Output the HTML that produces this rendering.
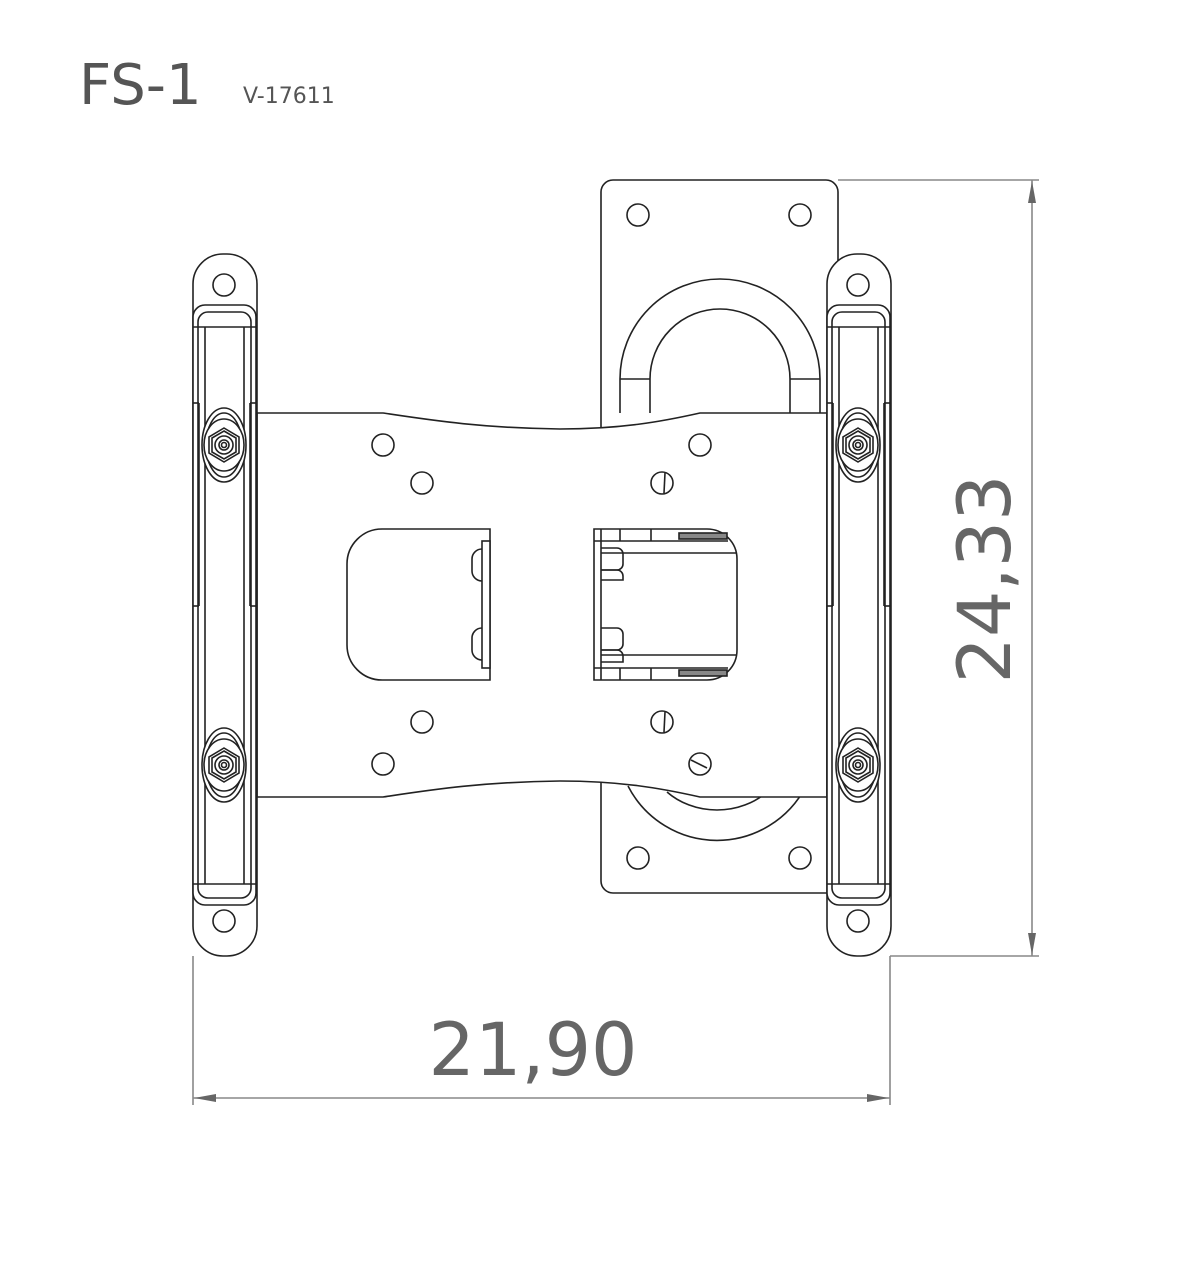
<!DOCTYPE html>
<html><head><meta charset="utf-8"><style>
html,body{margin:0;padding:0;background:#fff;}
svg{display:block;}
</style></head><body>
<svg width="1200" height="1272" viewBox="0 0 1200 1272" xmlns="http://www.w3.org/2000/svg">
<defs>
<g id="bolt">
  <ellipse cx="0" cy="0" rx="22" ry="37"/>
  <ellipse cx="0" cy="0" rx="18" ry="32"/>
  <ellipse cx="0" cy="0" rx="20" ry="26"/>
  <polygon points="0,-17 15,-8 15,8 0,17 -15,8 -15,-8"/>
  <polygon points="0,-14 12,-7 12,7 0,14 -12,7 -12,-7"/>
  <circle r="9"/><circle r="5"/><circle r="2.5"/>
</g>
<g id="rail">
  <rect x="0" y="0" width="64" height="702" rx="30"/>
  <rect x="0" y="51" width="63" height="600" rx="12"/>
  <rect x="5" y="58" width="53" height="586" rx="10"/>
  <line x1="0" y1="73" x2="63" y2="73"/>
  <line x1="0" y1="630" x2="63" y2="630"/>
  <line x1="12" y1="73" x2="12" y2="630"/>
  <line x1="51" y1="73" x2="51" y2="630"/>
  <line x1="6" y1="149" x2="6" y2="352"/>
  <line x1="57" y1="149" x2="57" y2="352"/>
  <line x1="0" y1="149" x2="6" y2="149"/><line x1="57" y1="149" x2="64" y2="149"/>
  <line x1="0" y1="352" x2="6" y2="352"/><line x1="57" y1="352" x2="64" y2="352"/>
  <circle cx="31" cy="31" r="11"/>
  <circle cx="31" cy="667" r="11"/>
  <use href="#bolt" x="31" y="191" fill="#fff"/>
  <use href="#bolt" x="31" y="511" fill="#fff"/>
</g>
</defs>

<text x="79" y="104" font-family="'DejaVu Sans','Liberation Sans',sans-serif" font-size="56" fill="#555">FS-1</text>
<text x="243" y="103" font-family="'DejaVu Sans','Liberation Sans',sans-serif" font-size="22" fill="#555">V-17611</text>

<g fill="#fff" stroke="#222" stroke-width="1.6">
  <rect x="601" y="180" width="237" height="713" rx="12"/>
  <circle cx="638" cy="215" r="11"/><circle cx="800" cy="215" r="11"/>
  <circle cx="638" cy="858" r="11"/><circle cx="800" cy="858" r="11"/>
  <path d="M620,413 V379 A100,100 0 0 1 820,379 V413" fill="none"/>
  <path d="M650,413 V379 A70,70 0 0 1 790,379 V413" fill="none"/>
  <line x1="620" y1="379" x2="650" y2="379"/><line x1="790" y1="379" x2="820" y2="379"/>
  <path d="M628,786 A100,100 0 0 0 806,786" fill="none"/>
  <path d="M667,792 A70,60 0 0 0 767,792" fill="none"/>

  <path d="M257,413 H383 C430,420 480,428 560,429 C620,429 660,422 700,413 H827 V797 H700 C660,788 620,781 560,781 C480,782 430,790 383,797 H257 Z"/>
  <circle cx="383" cy="445" r="11"/><circle cx="422" cy="483" r="11"/>
  <circle cx="700" cy="445" r="11"/><circle cx="662" cy="483" r="11"/>
  <circle cx="422" cy="722" r="11"/><circle cx="383" cy="764" r="11"/>
  <circle cx="662" cy="722" r="11"/><circle cx="700" cy="764" r="11"/>
  <line x1="665" y1="473" x2="664" y2="493"/>
  <line x1="665" y1="712" x2="664" y2="732"/>
  <line x1="691" y1="760" x2="707" y2="768"/>

  <path d="M382,529 H490 V680 H382 A35,35 0 0 1 347,645 V564 A35,35 0 0 1 382,529 Z"/>
  <rect x="482" y="541" width="8" height="127"/>
  <path d="M482,549 A10,10 0 0 0 472,559 V571 A10,10 0 0 0 482,581" fill="none"/>
  <path d="M482,628 A10,10 0 0 0 472,638 V650 A10,10 0 0 0 482,660" fill="none"/>

  <path d="M594,529 H707 A30,30 0 0 1 737,559 V650 A30,30 0 0 1 707,680 H594 Z"/>
  <line x1="601" y1="529" x2="601" y2="680"/>
  <line x1="594" y1="541" x2="728" y2="541"/>
  <line x1="594" y1="668" x2="728" y2="668"/>
  <line x1="601" y1="553" x2="737" y2="553"/>
  <line x1="601" y1="655" x2="737" y2="655"/>
  <line x1="620" y1="529" x2="620" y2="541"/><line x1="651" y1="529" x2="651" y2="541"/>
  <line x1="620" y1="668" x2="620" y2="680"/><line x1="651" y1="668" x2="651" y2="680"/>
  <rect x="679" y="533" width="48" height="6" fill="#888"/>
  <rect x="679" y="670" width="48" height="6" fill="#888"/>
  <path d="M601,548 H617 A6,6 0 0 1 623,554 V564 A6,6 0 0 1 617,570 H601" fill="none"/>
  <path d="M601,570 H617 A6,6 0 0 1 623,576 V580 H601" fill="none"/>
  <path d="M601,628 H617 A6,6 0 0 1 623,634 V644 A6,6 0 0 1 617,650 H601" fill="none"/>
  <path d="M601,650 H617 A6,6 0 0 1 623,656 V662 H601" fill="none"/>

  <use href="#rail" x="193" y="254"/>
  <use href="#rail" x="827" y="254"/>
</g>

<g stroke="#888" stroke-width="1.6" fill="#666">
  <line x1="838" y1="180" x2="1039" y2="180"/>
  <line x1="890" y1="956" x2="1039" y2="956"/>
  <line x1="1032" y1="180" x2="1032" y2="956"/>
  <polygon points="1032,181 1028,203 1036,203" stroke="none"/>
  <polygon points="1032,955 1028,933 1036,933" stroke="none"/>
  <line x1="193" y1="956" x2="193" y2="1105"/>
  <line x1="890" y1="956" x2="890" y2="1105"/>
  <line x1="193" y1="1098" x2="890" y2="1098"/>
  <polygon points="194,1098 216,1094 216,1102" stroke="none"/>
  <polygon points="889,1098 867,1094 867,1102" stroke="none"/>
</g>
<text x="533" y="1075" text-anchor="middle" font-family="'DejaVu Sans','Liberation Sans',sans-serif" font-size="73" fill="#666">21,90</text>
<text transform="translate(1010,579) rotate(-90)" text-anchor="middle" font-family="'DejaVu Sans','Liberation Sans',sans-serif" font-size="73" fill="#666">24,33</text>
</svg>
</body></html>
